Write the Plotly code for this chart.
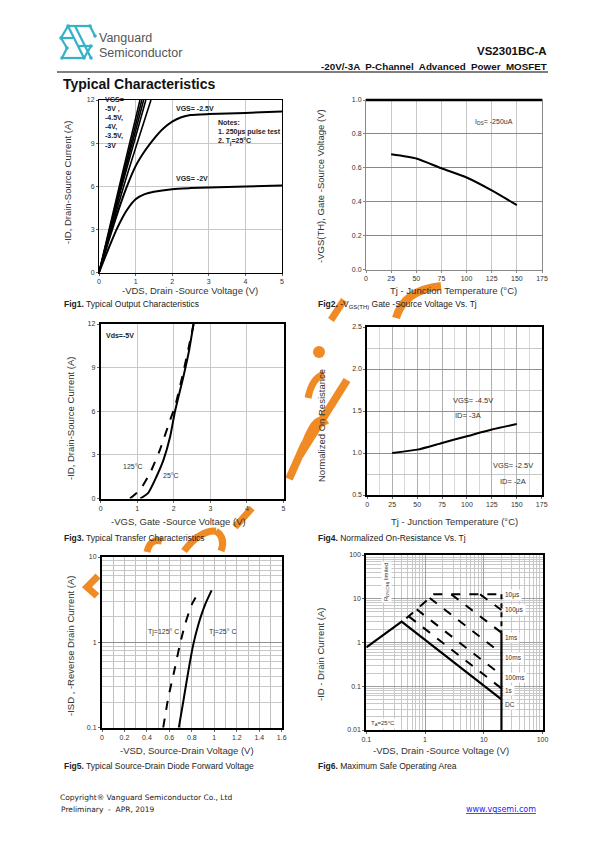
import plotly.graph_objects as go

W, H = 595, 842

# ---------------- data ----------------
# Fig1 output characteristics
f1_vds_2v = [0, 0.25, 0.5, 0.75, 1, 1.25, 1.5, 2, 2.5, 3, 4, 5]
f1_id_2v = [0, 1.6, 3.1, 4.3, 5.1, 5.45, 5.62, 5.8, 5.87, 5.92, 5.98, 6.05]
f1_vds_25v = [0, 0.25, 0.5, 0.75, 1, 1.25, 1.5, 1.75, 2, 2.25, 2.5, 3, 4, 5]
f1_id_25v = [0, 2.1, 4.1, 5.9, 7.4, 8.45, 9.3, 10.0, 10.5, 10.8, 10.95, 11.02, 11.1, 11.2]
f1_steep_labels = ["-5V", "-4.5V", "-4V", "-3.5V", "-3V"]
f1_steep_vds = [[0, 0.56, 1.12], [0, 0.585, 1.17], [0, 0.61, 1.22], [0, 0.64, 1.28], [0, 0.71, 1.42]]
f1_steep_id = [[0, 6.05, 12], [0, 6.05, 12], [0, 6.1, 12], [0, 6.15, 12], [0, 6.3, 12]]

# Fig2 threshold voltage vs Tj
f2_tj = [25, 50, 75, 100, 125, 150]
f2_vth = [0.68, 0.655, 0.597, 0.543, 0.467, 0.38]

# Fig3 transfer characteristics
f3_vgs_25 = [1.08, 1.3, 1.53, 1.72, 1.9, 2.03, 2.26, 2.4, 2.54]
f3_id_25 = [0, 0.39, 1.53, 2.67, 4.26, 5.97, 8.36, 9.95, 12]
f3_vgs_125 = [0.8, 1.08, 1.35, 1.62, 1.9, 2.03, 2.26, 2.4, 2.54]
f3_id_125 = [0, 0.62, 1.75, 3.35, 5.4, 6.3, 8.7, 10.3, 12]

# Fig4 normalized on-resistance
f4_tj = [25, 50, 75, 100, 125, 150]
f4_rn = [1.0, 1.04, 1.12, 1.2, 1.28, 1.345]

# Fig5 diode forward voltage
f5_vsd_25 = [0.684, 0.723, 0.768, 0.812, 0.857, 0.917, 0.976]
f5_isd_25 = [0.1, 0.2, 0.455, 0.935, 1.6, 2.75, 4.06]
f5_vsd_125 = [0.545, 0.589, 0.649, 0.693, 0.738, 0.798, 0.857]
f5_isd_125 = [0.1, 0.22, 0.5, 0.935, 1.6, 2.75, 3.77]

# Fig6 safe operating area
f6_dc_v = [0.1, 0.4, 20]
f6_dc_i = [0.776, 3.0, 0.05]
f6_edge_v = [20, 20]
f6_edge_i = [1.68, 0.01]
f6_edge_dash_v = [20, 20]
f6_edge_dash_i = [12.6, 1.68]
f6_rds_v = [0.48, 1.41, 20]
f6_rds_i = [3.57, 12.6, 12.6]
f6_pulse_labels = ["100µs", "1ms", "10ms", "100ms", "1s"]
f6_pulse_v = [[8.67, 20], [2.8, 20], [1.2, 20], [0.72, 20], [0.528, 20]]
f6_pulse_i = [[12.6, 5.53], [12.6, 1.68], [10.4, 0.565], [5.73, 0.18], [3.96, 0.0895]]
f6_labels = ["10µs", "100µs", "1ms", "10ms", "100ms", "1s", "DC"]

# ---------------- layout helpers ----------------
FONT = "Liberation Sans, Arial, sans-serif"
NARROW = "Liberation Sans Narrow, Arial Narrow, Liberation Sans, Arial, sans-serif"


def dom(l, r, t, b):
    return [l / W, r / W], [1 - b / H, 1 - t / H]


def ann(text, x, y, size, xanchor="left", color="#222", angle=0, family=FONT, bg=None, yanchor="middle",
        align="left"):
    d = dict(x=x / W, y=1 - y / H, xref="paper", yref="paper", text=text, showarrow=False,
             xanchor=xanchor, yanchor=yanchor, textangle=angle, align=align,
             font=dict(size=size, color=color, family=family))
    if bg:
        d["bgcolor"] = bg
        d["borderpad"] = 1
    return d


rects = {
    1: (99, 282, 100, 272.5),
    2: (366, 542, 100, 269.5),
    3: (100.7, 283.5, 324, 498.5),
    4: (367.3, 541.7, 327, 495),
    5: (102, 281.7, 557, 727.7),
    6: (366.3, 542.5, 555, 730),
}

tickfont = dict(size=7, color="#333", family=NARROW)
fig = go.Figure()

black = "#000"


def line(x, y, ax, dash="solid", width=2):
    fig.add_trace(go.Scatter(x=x, y=y, mode="lines", xaxis="x" + ax, yaxis="y" + ax,
                             line=dict(color=black, width=width, dash=dash, shape="spline", smoothing=0.6),
                             showlegend=False, hoverinfo="skip"))


def straight(x, y, ax, dash="solid", width=2):
    fig.add_trace(go.Scatter(x=x, y=y, mode="lines", xaxis="x" + ax, yaxis="y" + ax,
                             line=dict(color=black, width=width, dash=dash),
                             showlegend=False, hoverinfo="skip"))


# Fig1
line(f1_vds_2v, f1_id_2v, "")
line(f1_vds_25v, f1_id_25v, "")
for xs, ys in zip(f1_steep_vds, f1_steep_id):
    line(xs, ys, "", width=1.6)
# Fig2
line(f2_tj, f2_vth, "2")
# Fig3
line(f3_vgs_25, f3_id_25, "3")
line(f3_vgs_125, f3_id_125, "3", dash="dash")
# Fig4
line(f4_tj, f4_rn, "4")
# Fig5
line(f5_vsd_25, f5_isd_25, "5")
line(f5_vsd_125, f5_isd_125, "5", dash="dash")
# Fig6
straight(f6_dc_v, f6_dc_i, "6", width=2.2)
straight(f6_edge_v, f6_edge_i, "6", width=2.2)
straight(f6_edge_dash_v, f6_edge_dash_i, "6", dash="5px,4px", width=2)
straight(f6_rds_v, f6_rds_i, "6", dash="dash", width=2)
for xs, ys in zip(f6_pulse_v, f6_pulse_i):
    straight(xs, ys, "6", dash="dash", width=2)

lay = dict(width=W, height=H, margin=dict(l=0, r=0, t=0, b=0, autoexpand=False), autosize=False,
           paper_bgcolor="white", plot_bgcolor="white", showlegend=False,
           font=dict(family=FONT, size=8, color="#222"))


def axes(n, xa, ya):
    l, r, t, b = rects[n]
    xd, yd = dom(l, r, t, b)
    sx = "" if n == 1 else str(n)
    base = dict(showline=True, mirror=True, ticks="outside", ticklen=2, tickfont=tickfont, zeroline=False,
                fixedrange=True, automargin=False, showgrid=True)
    lay["xaxis" + sx] = dict(base, domain=xd, anchor="y" + sx, **xa)
    lay["yaxis" + sx] = dict(base, domain=yd, anchor="x" + sx, **ya)


g_light = "#c8c8c8"
axes(1, dict(range=[0, 5], dtick=1, gridcolor=g_light, linecolor="#000", linewidth=1, tickcolor="#666"),
     dict(range=[0, 12], dtick=3, gridcolor=g_light, linecolor="#000", linewidth=1, tickcolor="#666"))
axes(2, dict(range=[0, 175], dtick=25, gridcolor="#c8c8c8", linecolor="#888", linewidth=1, tickcolor="#888"),
     dict(range=[0, 1.0], dtick=0.2, tickformat=".1f", gridcolor="#888", linecolor="#888", linewidth=1,
          tickcolor="#888"))
axes(3, dict(range=[0, 5], dtick=1, gridcolor=g_light, linecolor="#000", linewidth=2, tickcolor="#666"),
     dict(range=[0, 12], dtick=3, gridcolor=g_light, linecolor="#000", linewidth=2, tickcolor="#666"))
axes(4, dict(range=[0, 175], dtick=25, gridcolor="#b0b0b0", linecolor="#000", linewidth=2, tickcolor="#666",
             minor=dict(dtick=12.5, showgrid=True, gridcolor="#d8d8d8")),
     dict(range=[0.5, 2.5], dtick=0.5, tickformat=".1f", gridcolor="#909090", linecolor="#000", linewidth=2,
          tickcolor="#666", minor=dict(dtick=0.25, showgrid=True, gridcolor="#c8c8c8")))
axes(5, dict(range=[0, 1.6], dtick=0.2, gridcolor="#c0c0c0", linecolor="#000", linewidth=2,
             tickcolor="#666", minor=dict(dtick=0.1, showgrid=True, gridcolor="#c0c0c0")),
     dict(type="log", range=[-1, 1], tickvals=[0.1, 1, 10], ticktext=["0.1", "1", "10"], gridcolor="#909090",
          linecolor="#000", linewidth=2, tickcolor="#666",
          minor=dict(showgrid=True, gridcolor="#c8c8c8", dtick="D1")))
axes(6, dict(type="log", range=[-1, 2], tickvals=[0.1, 1, 10, 100], ticktext=["0.1", "1", "10", "100"],
             gridcolor="#a0a0a0", linecolor="#000", linewidth=2, tickcolor="#666",
             minor=dict(showgrid=True, gridcolor="#c8c8c8", dtick="D1")),
     dict(type="log", range=[-2, 2], tickvals=[0.01, 0.1, 1, 10, 100],
          ticktext=["0.01", "0.1", "1", "10", "100"], gridcolor="#a0a0a0", linecolor="#000", linewidth=2,
          tickcolor="#666", minor=dict(showgrid=True, gridcolor="#c8c8c8", dtick="D1")))


def pth(pts):
    return "M " + " L ".join(f"{x / W},{1 - y / H}" for x, y in pts)


def qpath(p0, c, p1):
    return (f"M {p0[0] / W},{1 - p0[1] / H} Q {c[0] / W},{1 - c[1] / H} {p1[0] / W},{1 - p1[1] / H}")


shapes = [
    dict(type="line", xref="paper", yref="paper", x0=57 / W, x1=548 / W, y0=1 - 72 / H, y1=1 - 72 / H,
         line=dict(color="#000", width=1.2)),
    dict(type="line", xref="x2 domain", yref="y2 domain", x0=0, x1=1, y0=1, y1=1,
         line=dict(color="#000", width=2.5)),
]

# watermark fragments (orange brush strokes visible between the charts)
orange = "#f08a24"
wm_strokes = [
    (pth([(98, 576), (87, 587), (97, 596)]), 7),
    (qpath((147, 552), (150, 538), (162, 541)), 7),
    (qpath((184, 551), (200, 530), (216, 531)), 7),
    (qpath((216, 531), (226, 538), (221, 551)), 7),
    (pth([(235, 527), (252, 508)]), 7),
    (pth([(289, 479), (305, 443)]), 8),
    (qpath((305, 443), (318, 410), (326, 425)), 7),
    (pth([(300, 455), (347, 380)]), 8),
    (qpath((308, 398), (312, 378), (324, 374)), 7),
    (pth([(331, 320), (344, 300)]), 7),
    (qpath((396, 318), (404, 290), (441, 286)), 8),
]
for d, w in wm_strokes:
    shapes.append(dict(type="path", xref="paper", yref="paper", path=d, layer="below",
                       line=dict(color=orange, width=w)))
shapes.append(dict(type="circle", xref="paper", yref="paper", x0=313 / W, x1=325 / W,
                   y0=1 - 358 / H, y1=1 - 346 / H, fillcolor=orange, line=dict(width=0), layer="below"))

# logo (teal geometric S)
teal = "#36b2c6"
logo_paths = [
    [(68, 26), (90, 26)],
    [(62, 58), (84, 58)],
    [(68, 26), (61, 38), (67, 48)],
    [(90, 26), (95, 36)],
    [(68, 26), (84, 58)],
    [(75, 26), (91, 58)],
    [(84, 58), (91, 46)],
    [(61, 38), (73, 38)],
    [(79, 46), (91, 46)],
    [(62, 58), (67, 48)],
]
for pts in logo_paths:
    shapes.append(dict(type="path", xref="paper", yref="paper", path=pth(pts), line=dict(color=teal, width=2.2)))
for (x, y) in [(68, 26), (90, 26), (62, 58), (84, 58), (61, 38), (95, 36), (91, 46), (67, 48), (91, 58)]:
    r = 1.8
    shapes.append(dict(type="circle", xref="paper", yref="paper", x0=(x - r) / W, x1=(x + r) / W,
                       y0=1 - (y + r) / H, y1=1 - (y - r) / H, fillcolor=teal, line=dict(color=teal, width=0)))
lay["shapes"] = shapes

A = []
# header texts
A.append(ann("Vanguard", 97, 38, 12.5, color="#555", family="Liberation Sans, Arial"))
A.append(ann("Semiconductor", 97, 53, 12.5, color="#555", family="Liberation Sans, Arial"))
A.append(ann("<b>VS2301BC-A</b>", 549, 51, 11.5, xanchor="right", color="#111"))
A.append(ann("<b>-20V/-3A  P-Channel  Advanced  Power  MOSFET</b>", 549, 66, 9.8, xanchor="right", color="#111"))
A.append(ann("<b>Typical Characteristics</b>", 61, 84, 14, color="#111"))

# captions
A.append(ann("<b>Fig1.</b> Typical Output Characteristics", 62, 304, 8.5))
A.append(ann("<b>Fig2.</b> -V<sub>GS(TH)</sub> Gate -Source Voltage Vs. Tj", 316, 304, 8.5))
A.append(ann("<b>Fig3.</b> Typical Transfer Characteristics", 62, 538, 8.5))
A.append(ann("<b>Fig4.</b> Normalized On-Resistance Vs. Tj", 316, 538, 8.5))
A.append(ann("<b>Fig5.</b> Typical Source-Drain Diode Forward Voltage", 62, 766, 8.5))
A.append(ann("<b>Fig6.</b> Maximum Safe Operating Area", 316, 766, 8.5))

# axis titles
tt = 9.5
A.append(ann("-VDS, Drain -Source Voltage (V)", 190, 290, tt, xanchor="center", color="#333"))
A.append(ann("-ID, Drain-Source Current (A)", 67, 182, tt, xanchor="center", color="#333", angle=-90))
A.append(ann("Tj - Junction Temperature (°C)", 453, 290, tt, xanchor="center", color="#333"))
A.append(ann("-VGS(TH), Gate -Source Voltage (V)", 321, 186, tt, xanchor="center", color="#333", angle=-90))
A.append(ann("-VGS, Gate -Source Voltage (V)", 178, 521, tt, xanchor="center", color="#333"))
A.append(ann("-ID, Drain-Source Current (A)", 70, 418, tt, xanchor="center", color="#333", angle=-90))
A.append(ann("Tj - Junction Temperature (°C)", 455, 521, tt, xanchor="center", color="#333"))
A.append(ann("Normalized On Resistance", 321, 426, tt, xanchor="center", color="#333", angle=-90))
A.append(ann("-VSD, Source-Drain Voltage (V)", 187, 750, tt, xanchor="center", color="#333"))
A.append(ann("-ISD , -Reverse Drain Current (A)", 70, 646, tt, xanchor="center", color="#333", angle=-90))
A.append(ann("-VDS, Drain -Source Voltage (V)", 441, 750, tt, xanchor="center", color="#333"))
A.append(ann("-ID - Drain Current (A)", 320, 655, tt, xanchor="center", color="#333", angle=-90))

# in-plot labels
s = 7
A.append(ann("<b>VGS=<br>-5V ,<br>-4.5V,<br>-4V,<br>-3.5V,<br>-3V</b>", 103, 122, s, family=NARROW))
A.append(ann("<b>VGS= -2.5V</b>", 174, 109, s, family=NARROW))
A.append(ann("<b>VGS= -2V</b>", 174, 179, s, family=NARROW))
A.append(ann("<b>Notes:<br>1. 250µs pulse test<br>2. T<sub>j</sub>=25°C</b>", 216, 133, s, family=NARROW))
A.append(ann("I<sub>DS</sub>= -250uA", 473, 122, s, family=NARROW, color="#333"))
A.append(ann("<b>Vds=-5V</b>", 104, 335, s, family=NARROW))
A.append(ann("125°C", 121, 467, s, family=NARROW, color="#333"))
A.append(ann("25°C", 161, 475, s, family=NARROW, color="#333"))
A.append(ann("VGS= -4.5V", 451, 400, 7.5, family=NARROW, color="#333"))
A.append(ann("ID= -3A", 453, 415, 7.5, family=NARROW, color="#333"))
A.append(ann("VGS= -2.5V", 491, 466, 7.5, family=NARROW, color="#333"))
A.append(ann("ID= -2A", 498, 481, 7.5, family=NARROW, color="#333"))
A.append(ann("Tj=125° C", 146, 632, 7, family=NARROW, color="#333"))
A.append(ann("Tj=25° C", 207, 632, 7, family=NARROW, color="#333"))
for lab, yy in zip(f6_labels, [595, 610, 637, 657, 677, 690, 704]):
    A.append(ann(lab, 503, yy, 6.5, family=NARROW, color="#333", bg="white"))
A.append(ann("R<sub>DS(ON)</sub> limited", 386, 582, 6, family=NARROW, color="#333", angle=-90, bg="white",
             xanchor="center"))
A.append(ann("T<sub>A</sub>=25°C", 369, 723, 6, family=NARROW, color="#333", bg="white"))

# footer
A.append(ann("Copyright® Vanguard Semiconductor Co., Ltd", 58, 797, 7.5, color="#222", family="DejaVu Sans"))
A.append(ann("Preliminary  -  APR, 2019", 59, 809, 7.5, color="#222", family="DejaVu Sans"))
A.append(ann("<u>www.vgsemi.com</u>", 538, 809, 8, xanchor="right", color="#1a1aff", family="DejaVu Sans"))

lay["annotations"] = A
fig.update_layout(**lay)

fig.write_html("out.html", config={"displayModeBar": False, "staticPlot": True, "responsive": False},
               post_script="document.body.style.margin='0';document.body.style.overflow='hidden';")
